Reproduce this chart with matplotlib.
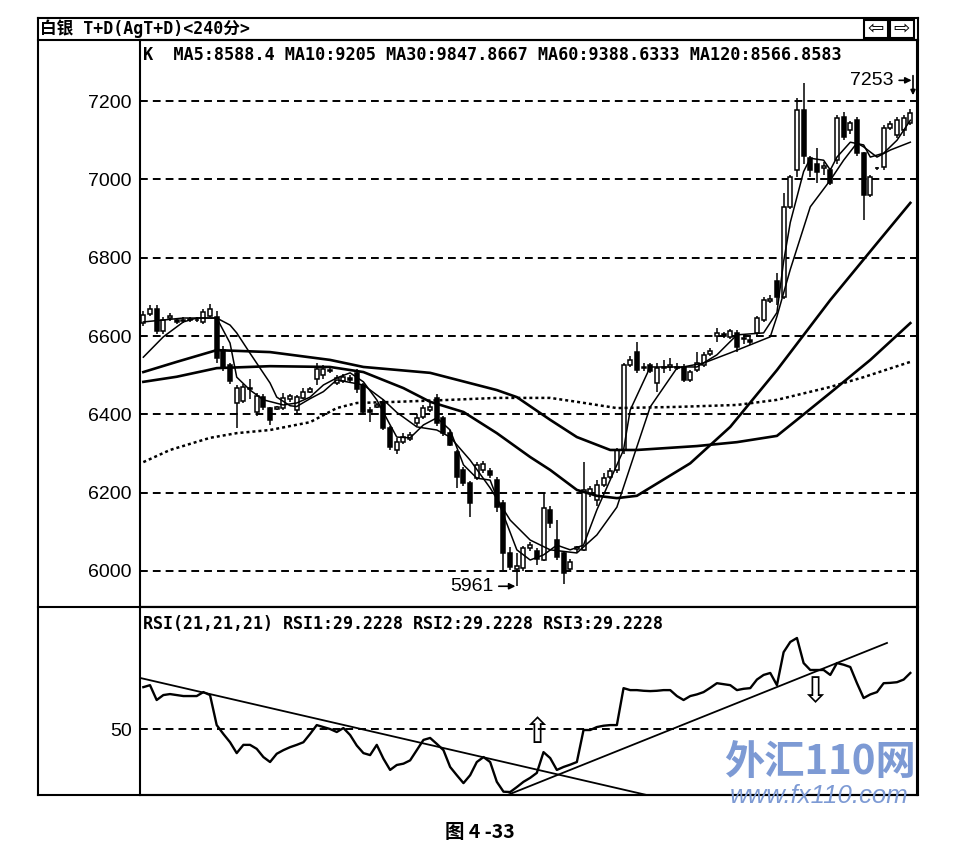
import numpy as np
import matplotlib
matplotlib.use('Agg')
import matplotlib.pyplot as plt
from matplotlib.lines import Line2D
from matplotlib.patches import Rectangle

# ---- candle data (240 min bars) ----
opens = [6633, 6655, 6670, 6612, 6645, 6640, 6638, 6640, 6642, 6636,
         6652, 6648, 6565, 6525, 6430, 6433, 6468, 6405, 6445, 6416,
         6414, 6416, 6440, 6410, 6442, 6458, 6490, 6500, 6513, 6480,
         6485, 6492, 6505, 6475, 6412, 6420, 6431, 6365, 6309, 6330,
         6338, 6378, 6393, 6410, 6442, 6390, 6352, 6304, 6258, 6225,
         6238, 6258, 6255, 6232, 6174, 6046, 6005, 6008, 6058, 6052,
         6028, 6156, 6080, 6046, 6005, 6055, 6054, 6200, 6180, 6220,
         6240, 6258, 6309, 6526, 6559, 6522, 6525, 6480, 6518, 6520,
         6522, 6522, 6488, 6513, 6526, 6554, 6600, 6605, 6598, 6608,
         6592, 6590, 6607, 6641, 6690, 6740, 6700, 6929, 7023, 7177,
         7054, 7040, 7030, 7025, 7049, 7159, 7125, 7151, 7067, 6960,
         7030, 7032, 7130, 7114, 7125, 7144]
highs = [6665, 6680, 6678, 6648, 6658, 6645, 6648, 6648, 6648, 6668,
         6682, 6665, 6575, 6530, 6475, 6478, 6490, 6455, 6452, 6420,
         6422, 6455, 6452, 6450, 6468, 6470, 6532, 6525, 6518, 6500,
         6502, 6500, 6515, 6480, 6420, 6430, 6440, 6370, 6340, 6352,
         6356, 6400, 6425, 6430, 6452, 6396, 6360, 6310, 6265, 6230,
         6278, 6282, 6262, 6240, 6180, 6060, 6046, 6065, 6075, 6058,
         6200, 6165, 6130, 6050, 6030, 6065, 6278, 6218, 6232, 6250,
         6262, 6315, 6530, 6550, 6585, 6530, 6530, 6530, 6540, 6545,
         6530, 6528, 6512, 6560, 6560, 6570, 6620, 6610, 6618, 6615,
         6605, 6598, 6652, 6700, 6705, 6760, 6965, 7012, 7208, 7246,
         7060, 7080, 7044, 7030, 7165, 7172, 7150, 7160, 7070, 7010,
         7032, 7140, 7150, 7160, 7165, 7180]
lows = [6625, 6650, 6605, 6605, 6638, 6630, 6634, 6636, 6635, 6632,
        6648, 6530, 6510, 6478, 6365, 6428, 6440, 6395, 6410, 6373,
        6410, 6412, 6432, 6400, 6438, 6455, 6474, 6490, 6505, 6475,
        6480, 6482, 6455, 6400, 6380, 6415, 6360, 6310, 6300, 6325,
        6333, 6370, 6388, 6405, 6370, 6345, 6318, 6212, 6218, 6138,
        6232, 6250, 6238, 6150, 6003, 6003, 5961, 6000, 6050, 6015,
        6025, 6110, 6028, 5968, 6000, 6045, 6050, 6190, 6165, 6215,
        6235, 6250, 6300, 6520, 6505, 6510, 6505, 6458, 6505, 6510,
        6512, 6482, 6482, 6508, 6520, 6550, 6585, 6595, 6592, 6560,
        6580, 6578, 6600, 6635, 6685, 6680, 6695, 6925, 7006, 7040,
        7006, 6990, 7010, 6985, 7040, 7100, 7115, 7060, 6896, 6955,
        7025, 7025, 7125, 7105, 7110, 7140]
closes = [6653, 6668, 6612, 6641, 6650, 6636, 6642, 6644, 6640, 6661,
          6670, 6545, 6520, 6485, 6467, 6470, 6464, 6448, 6420, 6386,
          6418, 6442, 6446, 6444, 6458, 6465, 6516, 6516, 6510, 6492,
          6495, 6488, 6465, 6406, 6405, 6425, 6365, 6317, 6329, 6342,
          6348, 6390, 6416, 6420, 6378, 6352, 6322, 6240, 6225, 6174,
          6270, 6272, 6245, 6163, 6046, 6010, 6012, 6059, 6066, 6030,
          6160, 6122, 6035, 5995, 6023, 6060, 6207, 6210, 6220, 6238,
          6255, 6309, 6526, 6540, 6513, 6518, 6510, 6518, 6522, 6526,
          6518, 6488, 6508, 6530, 6552, 6562, 6607, 6600, 6612, 6572,
          6596, 6585, 6646, 6692, 6695, 6700, 6929, 7006, 7177, 7060,
          7023, 7018, 7034, 6990, 7157, 7108, 7144, 7067, 6960, 7006,
          7028, 7131, 7142, 7151, 7157, 7170]

# moving averages (bar index, price)
ma5_x = [0, 6, 11, 13, 14, 16, 18, 21, 23, 25, 27, 29, 31, 33, 35, 37, 38, 40, 42, 44,
         46, 48, 50, 52, 54, 56, 58, 60, 62, 64, 66, 68, 72, 73, 76, 83, 86, 89, 93, 95,
         96, 97, 99, 100, 102, 103, 104, 106, 108, 109, 111, 113, 115]
ma5_y = [6636, 6646, 6646, 6582, 6495, 6462, 6437, 6424, 6429, 6444, 6475, 6493, 6506,
         6483, 6437, 6373, 6342, 6340, 6373, 6391, 6360, 6271, 6237, 6232, 6143, 6054,
         6028, 6041, 6066, 6054, 6066, 6156, 6309, 6411, 6521, 6521, 6552, 6603, 6608,
         6660, 6790, 6890, 7020, 7054, 7049, 7024, 7057, 7095, 7088, 7057, 7067, 7100, 7151]
ma10_x = [0, 3, 6, 8, 11, 13, 14, 16, 19, 20, 22, 23, 25, 27, 29, 33, 36, 38, 41, 44,
          46, 49, 52, 55, 58, 61, 65, 68, 71, 74, 76, 80, 84, 88, 94, 95, 97, 100, 103,
          105, 107, 108, 110, 112, 115]
ma10_y = [6546, 6598, 6636, 6646, 6646, 6628, 6608, 6556, 6480, 6444, 6422, 6420, 6440,
          6458, 6488, 6475, 6437, 6405, 6368, 6360, 6342, 6283, 6212, 6130, 6079, 6054,
          6046, 6092, 6163, 6317, 6419, 6518, 6531, 6557, 6598, 6650, 6770, 6930, 6998,
          7049, 7093, 7083, 7057, 7075, 7095]
ma30_x = [0, 5, 11, 19, 28, 33, 39, 43, 48, 53, 58, 61, 65, 68, 71, 74, 82, 88, 95, 103, 110, 115]
ma30_y = [6483, 6496, 6518, 6523, 6521, 6508, 6467, 6432, 6406, 6352, 6291, 6258, 6207,
          6192, 6186, 6192, 6275, 6368, 6513, 6692, 6837, 6940]
ma60_x = [0, 5, 11, 19, 28, 33, 43, 53, 56, 61, 65, 70, 74, 83, 89, 95, 98, 103, 109, 115]
ma60_y = [6508, 6534, 6564, 6559, 6539, 6521, 6506, 6462, 6444, 6386, 6342, 6309, 6309,
          6319, 6329, 6345, 6386, 6455, 6539, 6633]
ma120_x = [0, 4, 10, 14, 19, 25, 29, 32, 38, 46, 53, 61, 65, 71, 80, 89, 95, 103, 108, 115]
ma120_y = [6278, 6309, 6340, 6352, 6360, 6380, 6416, 6429, 6432, 6437, 6442, 6442, 6432,
           6416, 6419, 6424, 6437, 6470, 6495, 6534]

# RSI(21)
rsi_x = list(range(0, 116))
rsi_y = [62.7, 63.3, 58.8, 60.3, 60.6, 60.3, 60.0, 60.0, 60.0, 61.2,
         60.3, 51.2, 48.5, 46.0, 42.7, 45.2, 45.2, 44.0, 41.5, 40.0,
         42.5, 43.6, 44.5, 45.2, 46.0, 48.5, 51.2, 50.6, 50.0, 49.1,
         50.3, 48.2, 45.0, 42.7, 42.1, 45.2, 41.0, 37.6, 39.1, 39.5,
         40.5, 43.6, 46.7, 47.3, 45.5, 43.6, 38.5, 36.0, 33.6, 36.0,
         40.0, 41.5, 40.0, 34.0, 31.0, 30.9, 32.4, 34.0, 35.2, 36.7,
         43.0, 41.2, 37.6, 38.5, 39.2, 40.0, 49.7, 49.7, 50.6, 51.0,
         51.2, 51.2, 62.4, 61.8, 61.8, 61.6, 61.5, 61.6, 61.8, 61.8,
         60.0, 58.8, 60.0, 60.5, 61.2, 62.5, 63.9, 63.6, 63.3, 61.8,
         62.2, 62.4, 65.0, 66.4, 67.0, 63.3, 73.3, 76.4, 77.6, 70.0,
         67.9, 67.9, 67.9, 66.4, 70.0, 69.5, 68.8, 63.9, 59.4, 60.5,
         61.2, 63.9, 64.0, 64.2, 65.0, 67.0]
trend_dn_x = [-0.5, 77.4]
trend_dn_y = [65.5, 29.1]
trend_up_x = [53.5, 111.5]
trend_up_y = [29.1, 76.1]

price_ticks = [6000, 6200, 6400, 6600, 6800, 7000, 7200]

W, H = 971, 859


def fx(x):
    return x / W


def fy(y):
    return 1 - y / H


fig = plt.figure(figsize=(W / 100, H / 100), dpi=100)
ax = fig.add_axes([fx(140), fy(607), fx(917) - fx(140), fy(40) - fy(607)])
ax2 = fig.add_axes([fx(140), fy(795), fx(917) - fx(140), fy(607) - fy(795)], sharex=ax)

dash = (0, (4, 2.6))
tick_font = dict(family='Liberation Sans', size=14)

# candles
idx = np.arange(len(opens))
o = np.array(opens); c = np.array(closes)
up = c >= o
ax.vlines(idx, lows, highs, color='black', lw=1.1, zorder=2)
ax.bar(idx[up], (c - o)[up], bottom=o[up], width=0.6, facecolor='white',
       edgecolor='black', lw=1.1, zorder=3)
ax.bar(idx[~up], (c - o)[~up], bottom=o[~up], width=0.6, facecolor='black',
       edgecolor='black', lw=1.1, zorder=3)

ax.plot(ma5_x, ma5_y, color='black', lw=1.1, zorder=4)
ax.plot(ma10_x, ma10_y, color='black', lw=1.1, zorder=4)
ax.plot(ma30_x, ma30_y, color='black', lw=1.9, zorder=4)
ax.plot(ma60_x, ma60_y, color='black', lw=1.9, zorder=4)
ax.plot(ma120_x, ma120_y, color='black', lw=1.8, ls=(0, (1.2, 1.2)), zorder=4)

ax.set_xlim(-0.5, 116)
ax.set_ylim(5908, 7356)
ax.set_yticks(price_ticks)
ax.set_yticklabels([str(t) for t in price_ticks], **tick_font)
ax.yaxis.grid(True, ls=dash, color='black', lw=1.4)
ax.set_axisbelow(True)
ax.tick_params(axis='y', length=0, pad=6)
ax.tick_params(axis='x', length=0, labelbottom=False)

ax.annotate('5961', xy=(56, 5961), xytext=(-17, 0), textcoords='offset points',
            ha='right', va='center', fontsize=14, family='Liberation Sans',
            arrowprops=dict(arrowstyle='-|>', color='black', lw=1.2,
                            shrinkA=2, shrinkB=1, mutation_scale=9))
ax.annotate('7253', xy=(115.4, 7253), xytext=(-14, 0), textcoords='offset points',
            ha='right', va='center', fontsize=14, family='Liberation Sans',
            arrowprops=dict(arrowstyle='-|>', color='black', lw=1.2,
                            shrinkA=2, shrinkB=1, mutation_scale=9))
# little hook down from the 7253 marker
ax.annotate('', xy=(115.4, 7215), xytext=(115.4, 7265),
            arrowprops=dict(arrowstyle='-|>', color='black', lw=1.2,
                            shrinkA=0, shrinkB=0, mutation_scale=7))

# RSI panel
ax2.plot(rsi_x, rsi_y, color='black', lw=1.7, zorder=4)
ax2.plot(trend_dn_x, trend_dn_y, color='black', lw=1.3, zorder=3)
ax2.plot(trend_up_x, trend_up_y, color='black', lw=1.3, zorder=3)
ax2.set_ylim(30, 87)
ax2.set_yticks([50])
ax2.set_yticklabels(['50'], **tick_font)
ax2.yaxis.grid(True, ls=dash, color='black', lw=1.4)
ax2.set_axisbelow(True)
ax2.tick_params(axis='y', length=0, pad=6)
ax2.tick_params(axis='x', length=0, labelbottom=False)
ax2.text(59, 48.8, '\u21e7', ha='center', va='center', fontsize=25, family='DejaVu Sans')
ax2.text(100.7, 61.2, '\u21e9', ha='center', va='center', fontsize=25, family='DejaVu Sans')

for a in (ax, ax2):
    for s in a.spines.values():
        s.set_linewidth(1.5)

# info lines
mono = ['DejaVu Sans Mono', 'Noto Sans CJK SC']
fig.text(fx(143), fy(55), 'K  MA5:8588.4 MA10:9205 MA30:9847.8667 MA60:9388.6333 MA120:8566.8583',
         ha='left', va='center', fontsize=12.2, family=mono, weight='bold')
fig.text(fx(143), fy(624), 'RSI(21,21,21) RSI1:29.2228 RSI2:29.2228 RSI3:29.2228',
         ha='left', va='center', fontsize=12, family=mono, weight='bold')

# window frame
frame = [((38, 918), (18, 18)), ((38, 918), (40, 40)), ((38, 918), (607, 607)),
         ((38, 918), (795, 795)), ((38, 38), (18, 795)), ((918, 918), (18, 795))]
for xs, ys in frame:
    fig.add_artist(Line2D([fx(xs[0]), fx(xs[1])], [fy(ys[0]), fy(ys[1])],
                          color='black', lw=1.5, transform=fig.transFigure))
fig.text(fx(40), fy(29), '白银 T+D(AgT+D)<240分>', ha='left', va='center',
         fontsize=12, family=mono, weight='bold')
for x0, sym in ((864, '\u21e6'), (890, '\u21e8')):
    fig.add_artist(Rectangle((fx(x0), fy(38)), fx(24), fy(20) - fy(38), fill=False,
                             lw=1.5, edgecolor='black', transform=fig.transFigure))
    fig.text(fx(x0 + 12), fy(29), sym, ha='center', va='center', fontsize=14,
             family='DejaVu Sans')

# watermark and caption
fig.text(fx(820), fy(763), '外汇110网', ha='center', va='center', fontsize=29,
         color='#7d9ad4', weight='bold', style='italic',
         family=['Noto Sans CJK SC', 'DejaVu Sans'], zorder=10)
fig.text(fx(819), fy(796), 'www.fx110.com', ha='center', va='center', fontsize=18.5,
         color='#7d9ad4', style='italic', family='Liberation Sans', zorder=10)
fig.text(fx(480), fy(832), '图 4 -33', ha='center', va='center', fontsize=14,
         weight='bold', family=['Noto Sans CJK SC', 'DejaVu Sans'])

fig.savefig('out.png', dpi=100)
